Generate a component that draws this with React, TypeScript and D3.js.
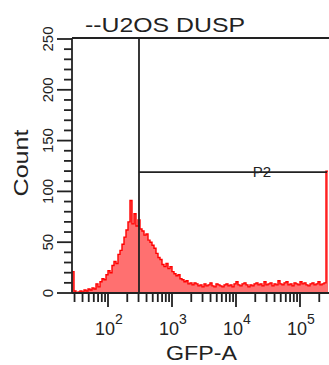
import React, {useEffect, useRef} from 'react';
import * as d3 from 'd3';

// GFP-A histogram, 128 log-spaced channels (2 px each on the original plot)
const binCounts = [
  21, 2, 0, 1, 2, 1, 3, 2, 4, 3,
  5, 4, 9, 6, 11, 14, 13, 18, 22, 20,
  27, 31, 29, 38, 42, 48, 55, 62, 70, 91,
  68, 78, 66, 72, 63, 61, 57, 58, 52, 50,
  47, 44, 39, 35, 33, 28, 26, 29, 24, 26,
  21, 19, 17, 18, 14, 13, 11, 12, 9, 10,
  8, 10, 9, 7,
  8, 6, 9, 7, 8, 10, 7, 6, 9, 8,
  7, 6, 8, 9, 7, 8, 6, 9, 11, 8,
  7, 9, 10, 8, 6, 8, 7, 9, 10, 8,
  9, 7, 11, 8, 9, 10, 7, 9, 8, 12,
  9, 8, 10, 11, 8, 9, 7, 10, 9, 8,
  11, 9, 10, 8, 7, 9, 10, 8, 9, 11,
  8, 9, 10, 120,
];
const logMin = 1.4375;
const logMax = 5.4375;
const yTicks = [0, 50, 100, 150, 200, 250];
const decades = [2, 3, 4, 5];
const gateP2 = {name: 'P2', from: 305, height: 119};
const title = '--U2OS DUSP';
const xLabel = 'GFP-A';
const yLabel = 'Count';

const FONT = '"Liberation Sans", Arial, sans-serif';
const AX = '#222';
const SW = 1.8;

const App = () => {
  const svgRef = useRef<SVGSVGElement>(null);

  useEffect(() => {
    const svg = d3.select(svgRef.current);
    svg.selectAll('*').remove();

    const left = 72, right = 328, top = 38, bottom = 293;
    const x = d3.scaleLog().domain([10 ** logMin, 10 ** logMax]).range([left, right]);
    const y = d3.scaleLinear().domain([0, 250]).range([bottom, 39]);

    const step = (logMax - logMin) / binCounts.length;
    const pts = binCounts.map((v, i) => [10 ** (logMin + i * step), v] as [number, number]);
    pts.push([10 ** logMax, binCounts[binCounts.length - 1]]);

    const area = d3.area<[number, number]>()
      .x(d => x(d[0])).y0(y(0)).y1(d => y(d[1]))
      .curve(d3.curveStepAfter);
    const line = d3.line<[number, number]>()
      .x(d => x(d[0])).y(d => y(d[1]))
      .curve(d3.curveStepAfter);

    svg.append('path').attr('d', area(pts)).attr('fill', '#ff7070');
    svg.append('path').attr('d', line(pts)).attr('fill', 'none')
      .attr('stroke', '#ff0000').attr('stroke-width', 1.4);

    // frame
    svg.append('line').attr('x1', left).attr('x2', 329).attr('y1', top).attr('y2', top)
      .attr('stroke', AX).attr('stroke-width', SW);
    svg.append('line').attr('x1', left).attr('x2', left).attr('y1', top).attr('y2', bottom)
      .attr('stroke', AX).attr('stroke-width', SW);
    svg.append('line').attr('x1', left).attr('x2', 329).attr('y1', bottom).attr('y2', bottom)
      .attr('stroke', AX).attr('stroke-width', SW);

    // y ticks
    for (let v = 0; v <= 250; v += 10) {
      const major = v % 50 === 0;
      svg.append('line').attr('x1', left - (major ? 15 : 8)).attr('x2', left)
        .attr('y1', y(v)).attr('y2', y(v)).attr('stroke', AX).attr('stroke-width', SW);
    }
    yTicks.forEach(v => {
      svg.append('text').attr('transform', `translate(53,${y(v)}) rotate(-90)`)
        .attr('text-anchor', 'middle').attr('font-family', FONT).attr('font-size', 15)
        .attr('fill', '#222').text(v);
    });

    // x ticks (log)
    const [d0, d1] = x.domain();
    for (let e = 1; e <= 5; e++) {
      for (let m = 1; m <= 9; m++) {
        const v = m * 10 ** e;
        if (v < d0 || v > d1) continue;
        const major = m === 1;
        svg.append('line').attr('x1', x(v)).attr('x2', x(v))
          .attr('y1', bottom).attr('y2', bottom + (major ? 14 : 9))
          .attr('stroke', AX).attr('stroke-width', SW);
      }
    }
    decades.forEach(e => {
      const t = svg.append('text').attr('x', x(10 ** e) + 1).attr('y', 335)
        .attr('text-anchor', 'middle').attr('font-family', FONT).attr('font-size', 18)
        .attr('fill', '#222');
      t.append('tspan').text('10');
      t.append('tspan').attr('font-size', 14).attr('dy', -11).text(e);
    });

    // gate P2
    const gx = x(gateP2.from);
    const gy = y(gateP2.height);
    svg.append('line').attr('x1', gx).attr('x2', gx).attr('y1', top).attr('y2', bottom)
      .attr('stroke', AX).attr('stroke-width', SW);
    svg.append('line').attr('x1', gx).attr('x2', 327).attr('y1', gy).attr('y2', gy)
      .attr('stroke', AX).attr('stroke-width', SW);
    svg.append('text').attr('x', 262).attr('y', gy + 5).attr('text-anchor', 'middle')
      .attr('font-family', FONT).attr('font-size', 15).attr('fill', '#222').text(gateP2.name);

    // titles
    svg.append('text').attr('x', 85).attr('y', 32).attr('font-family', FONT)
      .attr('font-size', 21).attr('textLength', 160).attr('lengthAdjust', 'spacingAndGlyphs')
      .attr('fill', '#222').text(title);
    svg.append('text').attr('x', 166).attr('y', 360).attr('font-family', FONT)
      .attr('font-size', 20).attr('textLength', 71).attr('lengthAdjust', 'spacingAndGlyphs')
      .attr('fill', '#222').text(xLabel);
    svg.append('text').attr('transform', 'translate(28,163) rotate(-90)')
      .attr('text-anchor', 'middle').attr('font-family', FONT).attr('font-size', 20)
      .attr('textLength', 67).attr('lengthAdjust', 'spacingAndGlyphs')
      .attr('fill', '#222').text(yLabel);
  }, []);

  return (
    <div style={{position: 'fixed', left: 0, top: 0, width: 329, height: 365, background: '#fff'}}>
      <svg ref={svgRef} width={329} height={365}></svg>
    </div>
  );
};

export default App;
